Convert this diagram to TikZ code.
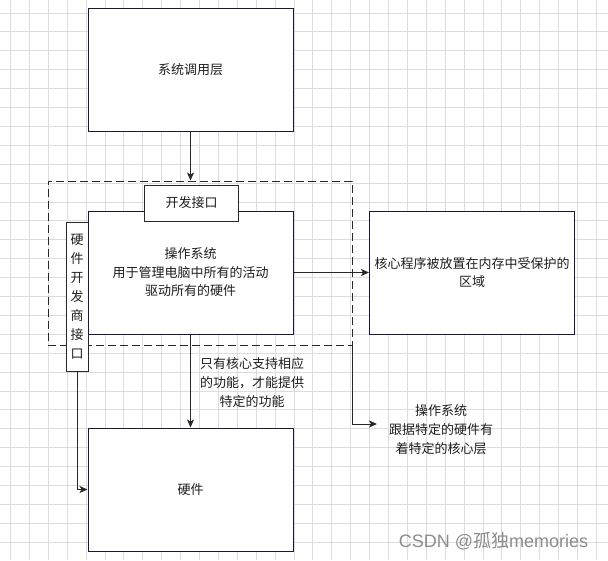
\documentclass[tikz,border=0pt]{standalone}
\usepackage{fontspec}
\setmainfont{Noto Sans CJK SC}
\newfontfamily\wmlatin{Liberation Sans}
\usetikzlibrary{arrows.meta,calc}
\definecolor{navy}{RGB}{24,24,60}
\definecolor{txt}{RGB}{30,30,30}
\definecolor{gridc}{RGB}{220,220,220}
\definecolor{edgec}{RGB}{40,40,40}
\definecolor{wm}{RGB}{140,140,140}
\begin{document}
\begin{tikzpicture}[x=1pt,y=-1pt,
  box/.style={draw=navy,line width=1pt,fill=white,text=txt,align=center,inner sep=0pt,
    font=\fontsize{13}{18.5}\selectfont},
  subbox/.style={box,draw=edgec},
  grpbox/.style={draw=edgec,line width=1pt,dash pattern=on 8pt off 4pt,inner sep=0pt},
  lbl/.style={text=txt,align=center,inner sep=0pt,font=\fontsize{13}{19}\selectfont},
  conn/.style={draw=edgec,line width=1pt,-{Stealth[length=8pt,width=7pt,inset=2pt]}}]
\fill[white] (0,0) rectangle (608,560);
\useasboundingbox (0,0) rectangle (608,560);
\foreach \i in {0,...,31} {\draw[gridc,line width=0.9pt] ({10.5+\i*18.9},0) -- ({10.5+\i*18.9},560);}
\foreach \i in {0,...,29} {\draw[gridc,line width=0.9pt] (0,{13+\i*18.9}) -- (608,{13+\i*18.9});}

\node[grpbox,minimum width=304pt,minimum height=164pt] (grp) at (200,263) {};
\node[box,minimum width=205pt,minimum height=123pt] (top) at (190.5,69.5) {系统调用层};
\node[subbox,minimum width=22pt,minimum height=149pt,font=\fontsize{13}{19}\selectfont] (hwi) at (77,296.5) {硬\\件\\开\\发\\商\\接\\口};
\node[box,minimum width=205pt,minimum height=123pt] (os) at (190.5,272.5) {操作系统\\用于管理电脑中所有的活动\\驱动所有的硬件};
\node[subbox,minimum width=94pt,minimum height=36pt] (dev) at (191.5,203) {开发接口};
\node[box,minimum width=205pt,minimum height=123pt] (core) at (472,272.5) {核心程序被放置在内存中受保护的\\区域};
\node[box,minimum width=205pt,minimum height=123pt] (hw) at (190.5,489.5) {硬件};
\node[lbl] (l1) at (252,382.5) {只有核心支持相应\\的功能，才能提供\\特定的功能};
\node[lbl] (l2) at (441,429.5) {操作系统\\跟据特定的硬件有\\着特定的核心层};
\coordinate (l2in) at (377,424);
\node[text=wm,inner sep=0pt,font=\fontsize{18}{18}\selectfont] (wmk) at (493.5,541) {{\wmlatin CSDN @}孤独{\wmlatin memories}};

\draw[conn] (top.south) -- (top.south |- grp.north);
\draw[conn] (os.east) -- (core.west);
\draw[conn] (os.south) -- (hw.north);
\draw[conn] (hwi.south) |- (hw.west);
\draw[conn] (grp.south east) |- (l2in);
\end{tikzpicture}
\end{document}
